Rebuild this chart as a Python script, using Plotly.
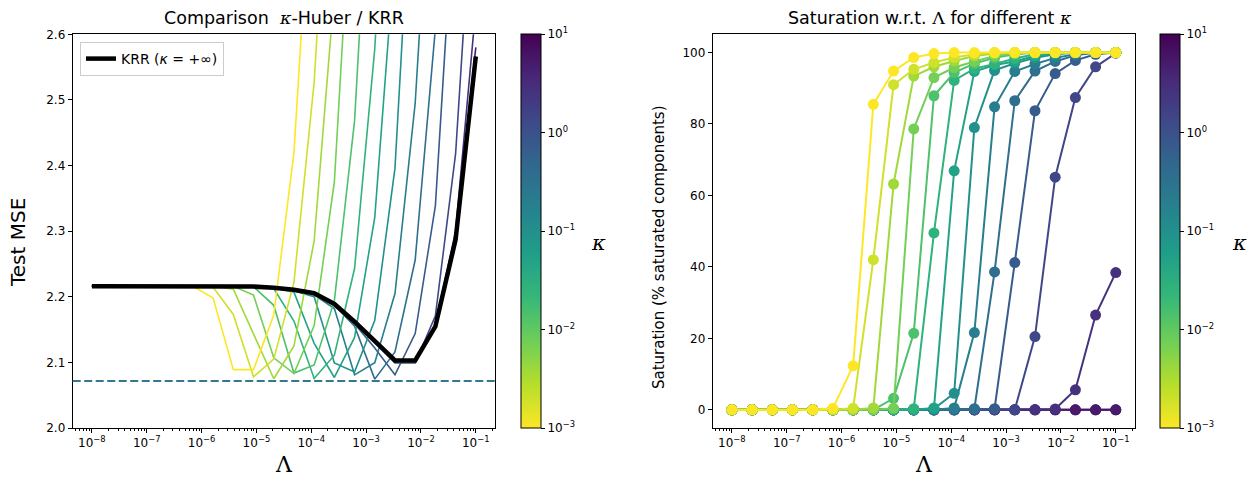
import math
import plotly.graph_objects as go
from plotly.colors import sample_colorscale

W, H = 1253, 481

# ---------------- data ----------------
lam = [1.0e-8, 2.336e-8, 5.456e-8, 1.274e-7, 2.976e-7, 6.952e-7, 1.624e-6,
       3.793e-6, 8.859e-6, 2.069e-5, 4.833e-5, 1.129e-4, 2.637e-4, 6.158e-4,
       1.438e-3, 3.360e-3, 7.848e-3, 1.833e-2, 4.281e-2, 1.0e-1]

kappa = [1.0e-3, 1.931e-3, 3.728e-3, 7.197e-3, 1.389e-2, 2.683e-2, 5.179e-2,
         1.0e-1, 1.931e-1, 3.728e-1, 7.197e-1, 1.389, 2.683, 5.179, 10.0]

krr_mse = [2.216, 2.216, 2.216, 2.216, 2.216, 2.216, 2.216, 2.216, 2.2155, 2.2137,
           2.2106, 2.2055, 2.189, 2.162, 2.133, 2.103, 2.103, 2.155, 2.287, 2.566]

best_mse = 2.0715

mse_k0 = [2.216, 2.216, 2.216, 2.216, 2.216, 2.216, 2.198, 2.089, 2.089, 2.172,
          2.42, 2.9, 3.48, 4.05, 4.6, 5.1, 5.6, 6.1, 6.5, 6.9]
mse_k1 = [2.216, 2.216, 2.216, 2.216, 2.216, 2.216, 2.2145, 2.173, 2.078, 2.105,
          2.222, 2.527, 3.04, 3.62, 4.2, 4.75, 5.3, 5.8, 6.3, 6.7]
mse_k2 = [2.216, 2.216, 2.216, 2.216, 2.216, 2.216, 2.216, 2.2115, 2.144, 2.075,
          2.125, 2.285, 2.666, 3.23, 3.8, 4.35, 4.9, 5.4, 5.9, 6.35]
mse_k3 = [2.216, 2.216, 2.216, 2.216, 2.216, 2.216, 2.216, 2.216, 2.2025, 2.107,
          2.083, 2.156, 2.375, 2.822, 3.41, 3.98, 4.55, 5.1, 5.6, 6.1]
mse_k4 = [2.216, 2.216, 2.216, 2.216, 2.216, 2.216, 2.216, 2.216, 2.2153, 2.187,
          2.0837, 2.096, 2.194, 2.468, 2.966, 3.56, 4.15, 4.7, 5.25, 5.75]
mse_k5 = [2.216, 2.216, 2.216, 2.216, 2.216, 2.216, 2.216, 2.216, 2.2155, 2.2125,
          2.163, 2.0755, 2.111, 2.243, 2.578, 3.116, 3.7, 4.28, 4.85, 5.4]
mse_k6 = [2.216, 2.216, 2.216, 2.216, 2.216, 2.216, 2.216, 2.216, 2.2155, 2.2135,
          2.207, 2.129, 2.077, 2.138, 2.321, 2.728, 3.3, 3.88, 4.45, 5.0]
mse_k7 = [2.216, 2.216, 2.216, 2.216, 2.216, 2.216, 2.216, 2.216, 2.2155, 2.2135,
          2.209, 2.2, 2.099, 2.0855, 2.164, 2.396, 2.858, 3.45, 4.03, 4.6]
mse_k8 = [2.216, 2.216, 2.216, 2.216, 2.216, 2.216, 2.216, 2.216, 2.2155, 2.2135,
          2.2104, 2.203, 2.182, 2.081, 2.0995, 2.205, 2.495, 3.0, 3.6, 4.18]
mse_k9 = [2.216, 2.216, 2.216, 2.216, 2.216, 2.216, 2.216, 2.216, 2.2155, 2.2135,
          2.2104, 2.2052, 2.187, 2.155, 2.0745, 2.116, 2.256, 2.609, 3.16, 3.75]
mse_k10 = [2.216, 2.216, 2.216, 2.216, 2.216, 2.216, 2.216, 2.216, 2.2155, 2.2135,
           2.2104, 2.2053, 2.1885, 2.159, 2.122, 2.081, 2.144, 2.339, 2.76, 3.34]
mse_k11 = [2.216, 2.216, 2.216, 2.216, 2.216, 2.216, 2.216, 2.216, 2.2155, 2.2136,
           2.2105, 2.2054, 2.1888, 2.1615, 2.131, 2.099, 2.099, 2.171, 2.418, 2.9]
mse_k12 = [2.216, 2.216, 2.216, 2.216, 2.216, 2.216, 2.216, 2.216, 2.2155, 2.2137,
           2.2106, 2.2055, 2.189, 2.162, 2.1325, 2.1025, 2.1025, 2.158, 2.3, 2.64]
mse_k13 = [2.216, 2.216, 2.216, 2.216, 2.216, 2.216, 2.216, 2.216, 2.2155, 2.2137,
           2.2106, 2.2055, 2.189, 2.162, 2.133, 2.103, 2.103, 2.156, 2.29, 2.58]
mse_k14 = [2.216, 2.216, 2.216, 2.216, 2.216, 2.216, 2.216, 2.216, 2.2155, 2.2137,
           2.2106, 2.2055, 2.189, 2.162, 2.133, 2.103, 2.103, 2.155, 2.287, 2.566]

sat_k0 = [0, 0, 0, 0, 0, 0.4, 12.3, 85.5, 94.8, 98.6, 99.7, 100, 100, 100, 100, 100, 100, 100, 100, 100]
sat_k1 = [0, 0, 0, 0, 0, 0, 0.4, 42.0, 91.0, 95.3, 97.2, 98.6, 99.5, 100, 100, 100, 100, 100, 100, 100]
sat_k2 = [0, 0, 0, 0, 0, 0, 0, 0.5, 63.2, 93.4, 96.0, 97.6, 99.0, 99.7, 100, 100, 100, 100, 100, 100]
sat_k3 = [0, 0, 0, 0, 0, 0, 0, 0, 0.4, 78.6, 93.0, 95.8, 97.5, 99.0, 99.7, 100, 100, 100, 100, 100]
sat_k4 = [0, 0, 0, 0, 0, 0, 0, 0, 3.2, 21.4, 87.9, 94.4, 96.9, 98.5, 99.5, 100, 100, 100, 100, 100]
sat_k5 = [0, 0, 0, 0, 0, 0, 0, 0, 0, 0.3, 49.5, 92.2, 95.5, 96.8, 98.3, 99.5, 100, 100, 100, 100]
sat_k6 = [0, 0, 0, 0, 0, 0, 0, 0, 0, 0, 0.5, 66.9, 94.7, 96.5, 97.5, 99.0, 99.7, 100, 100, 100]
sat_k7 = [0, 0, 0, 0, 0, 0, 0, 0, 0, 0, 0.3, 4.6, 79.0, 95.0, 97.0, 98.5, 99.5, 100, 100, 100]
sat_k8 = [0, 0, 0, 0, 0, 0, 0, 0, 0, 0, 0, 0.5, 21.6, 84.8, 94.7, 96.8, 98.5, 99.5, 100, 100]
sat_k9 = [0, 0, 0, 0, 0, 0, 0, 0, 0, 0, 0, 0, 0.3, 38.6, 86.5, 94.8, 97.5, 99.2, 100, 100]
sat_k10 = [0, 0, 0, 0, 0, 0, 0, 0, 0, 0, 0, 0, 0, 0.3, 41.2, 83.7, 94.1, 97.8, 99.5, 100]
sat_k11 = [0, 0, 0, 0, 0, 0, 0, 0, 0, 0, 0, 0, 0, 0, 0, 20.5, 65.1, 87.4, 96.0, 99.8]
sat_k12 = [0, 0, 0, 0, 0, 0, 0, 0, 0, 0, 0, 0, 0, 0, 0, 0, 0.2, 5.6, 26.5, 38.4]
sat_k13 = [0] * 20
sat_k14 = [0] * 20

mse_by_kappa = [mse_k0, mse_k1, mse_k2, mse_k3, mse_k4, mse_k5, mse_k6, mse_k7,
                mse_k8, mse_k9, mse_k10, mse_k11, mse_k12, mse_k13, mse_k14]
sat_by_kappa = [sat_k0, sat_k1, sat_k2, sat_k3, sat_k4, sat_k5, sat_k6, sat_k7,
                sat_k8, sat_k9, sat_k10, sat_k11, sat_k12, sat_k13, sat_k14]

x_tick_vals = [1e-8, 1e-7, 1e-6, 1e-5, 1e-4, 1e-3, 1e-2, 1e-1]
x_tick_text = ["10<sup>\u22128</sup>", "10<sup>\u22127</sup>", "10<sup>\u22126</sup>",
               "10<sup>\u22125</sup>", "10<sup>\u22124</sup>", "10<sup>\u22123</sup>",
               "10<sup>\u22122</sup>", "10<sup>\u22121</sup>"]
cb_tick_vals = [-3, -2, -1, 0, 1]
cb_tick_text = ["10<sup>\u22123</sup>", "10<sup>\u22122</sup>", "10<sup>\u22121</sup>",
                "10<sup>0</sup>", "10<sup>1</sup>"]
mse_ticks = [2.0, 2.1, 2.2, 2.3, 2.4, 2.5, 2.6]
sat_ticks = [0, 20, 40, 60, 80, 100]

# ---------------- styling helpers ----------------
FONT = "DejaVu Sans"
SERIF = "DejaVu Serif"
log_k = [math.log10(k) for k in kappa]
colors = sample_colorscale("Viridis", [1 - (lk + 3) / 4 for lk in log_k])

minor_vals = []
for e in range(-9, 0):
    for m in range(2, 10):
        v = m * 10.0 ** e
        if 10 ** -8.35 <= v <= 10 ** -0.65:
            minor_vals.append(v)


def px(x):
    return x / W


def py(y):
    return 1 - y / H


L_DOM = [px(72.7), px(495)]
R_DOM = [px(712.7), px(1135)]
Y_DOM = [py(428), py(34.3)]

fig = go.Figure()

# Left panel: MSE per kappa (drawn from largest kappa to smallest)
for j in reversed(range(len(kappa))):
    fig.add_trace(go.Scatter(x=lam, y=mse_by_kappa[j], mode="lines",
                             line=dict(color=colors[j], width=1.6),
                             showlegend=False, hoverinfo="skip",
                             xaxis="x", yaxis="y"))

fig.add_trace(go.Scatter(x=lam, y=krr_mse, mode="lines",
                         line=dict(color="black", width=4.5),
                         name="KRR (<i>\u03ba</i> = +\u221e)", showlegend=True,
                         xaxis="x", yaxis="y"))

# Right panel: saturation
for j in reversed(range(len(kappa))):
    fig.add_trace(go.Scatter(x=lam, y=sat_by_kappa[j], mode="lines+markers",
                             line=dict(color=colors[j], width=2),
                             marker=dict(color=colors[j], size=11),
                             showlegend=False, hoverinfo="skip",
                             xaxis="x2", yaxis="y2"))

# Colorbars
cb_common = dict(thickness=20, len=Y_DOM[1] - Y_DOM[0], lenmode="fraction",
                 y=(Y_DOM[0] + Y_DOM[1]) / 2, yanchor="middle", xanchor="left",
                 xpad=0, ypad=0, outlinewidth=1, outlinecolor="black",
                 tickvals=cb_tick_vals, ticktext=cb_tick_text, ticks="outside",
                 ticklen=4, tickcolor="black", tickfont=dict(family=FONT, size=12, color="black"))
for xa, ya, cx in (("x", "y", px(521)), ("x2", "y2", px(1160))):
    fig.add_trace(go.Scatter(x=[None], y=[None], mode="markers",
                             marker=dict(color=log_k, cmin=-3, cmax=1,
                                         colorscale="Viridis", reversescale=True,
                                         showscale=True,
                                         colorbar=dict(x=cx, **cb_common)),
                             showlegend=False, hoverinfo="skip",
                             xaxis=xa, yaxis=ya))

fig.add_shape(type="line", xref="x domain", x0=0, x1=1, yref="y",
              y0=best_mse, y1=best_mse,
              line=dict(color="#33788e", width=2, dash="8px,3.5px"))

axis_common = dict(showline=True, mirror=True, linecolor="black", linewidth=1,
                   ticks="outside", ticklen=4, tickcolor="black", showgrid=False,
                   zeroline=False, tickfont=dict(family=FONT, size=12, color="black"))
xaxis_common = dict(type="log", range=[-8.35, -0.65], tickvals=x_tick_vals,
                    ticktext=x_tick_text,
                    minor=dict(tickvals=minor_vals, ticks="outside", ticklen=2,
                               tickcolor="black", showgrid=False),
                    **axis_common)

fig.update_layout(
    width=W, height=H,
    margin=dict(l=0, r=0, t=0, b=0, autoexpand=False),
    paper_bgcolor="white", plot_bgcolor="white",
    xaxis=dict(domain=L_DOM, anchor="y", automargin=False, **xaxis_common),
    yaxis=dict(domain=Y_DOM, anchor="x", range=[2.0, 2.6], tickvals=mse_ticks,
               tickformat=".1f", automargin=False, **axis_common),
    xaxis2=dict(domain=R_DOM, anchor="y2", automargin=False, **xaxis_common),
    yaxis2=dict(domain=Y_DOM, anchor="x2", range=[-5.1, 105.1], tickvals=sat_ticks,
                automargin=False, **axis_common),
    legend=dict(x=px(80), y=py(42), xanchor="left", yanchor="top",
                bgcolor="white", bordercolor="#cccccc", borderwidth=1,
                font=dict(family=FONT, size=14, color="black")),
    showlegend=True,
)

ann = [
    dict(text="Comparison\u00a0 <span style=\"font-family:'DejaVu Serif'\"><i>\u03ba</i></span>-Huber / KRR",
         x=px(284), y=py(18), size=17.5, family=FONT, angle=0),
    dict(text="Saturation w.r.t. <span style=\"font-family:'DejaVu Serif'\">\u039b</span> for different <span style=\"font-family:'DejaVu Serif'\"><i>\u03ba</i></span>",
         x=px(930), y=py(18), size=17.5, family=FONT, angle=0),
    dict(text="Test MSE", x=px(18), y=py(243), size=20, family=FONT, angle=-90),
    dict(text="Saturation (% saturated components)", x=px(659), y=py(247), size=15,
         family=FONT, angle=-90),
    dict(text="\u039b", x=px(284), y=py(464), size=22, family=SERIF, angle=0),
    dict(text="\u039b", x=px(924), y=py(464), size=22, family=SERIF, angle=0),
    dict(text="<i>\u03ba</i>", x=px(598), y=py(243), size=21, family=SERIF, angle=0),
    dict(text="<i>\u03ba</i>", x=px(1239), y=py(243), size=21, family=SERIF, angle=0),
]
for a in ann:
    fig.add_annotation(text=a["text"], x=a["x"], y=a["y"], xref="paper", yref="paper",
                       xanchor="center", yanchor="middle", showarrow=False,
                       textangle=a["angle"],
                       font=dict(family=a["family"], size=a["size"], color="black"))

fig.write_html("out.html", config={"displayModeBar": False},
               post_script="document.body.style.margin='0px';")
